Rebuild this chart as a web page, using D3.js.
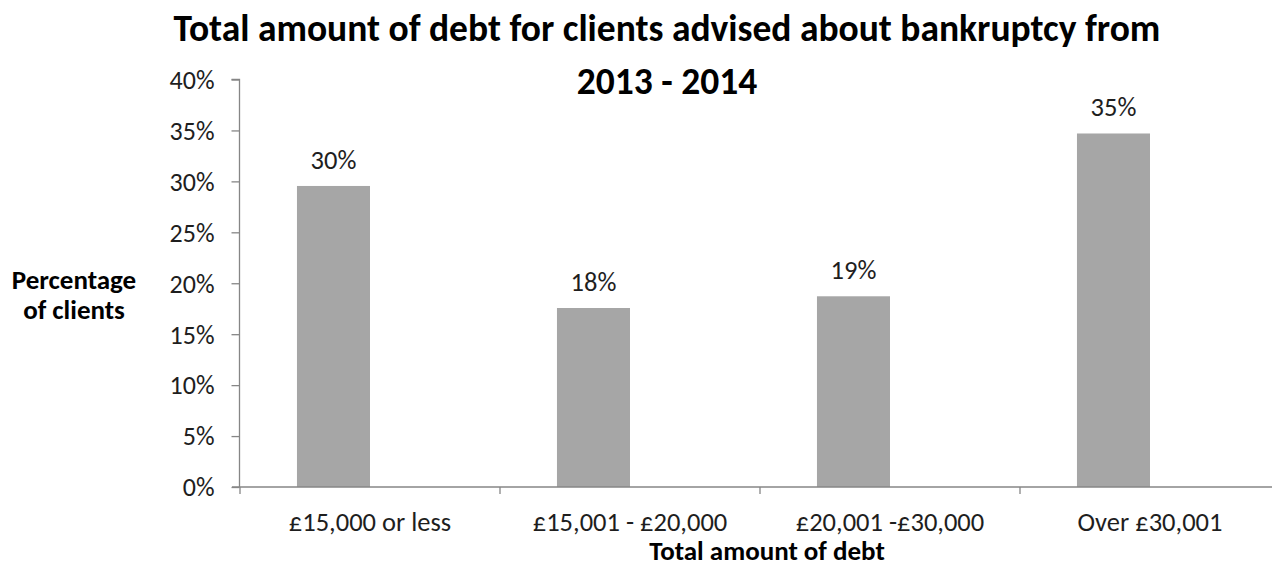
<!DOCTYPE html>
<html>
<head>
<meta charset="utf-8">
<script src="https://cdn.jsdelivr.net/npm/d3@7"></script>
<style>
  html, body { margin: 0; padding: 0; background: #fff; }
  svg { display: block; }
  text { font-family: Carlito, Calibri, Lato, sans-serif; }
</style>
</head>
<body>
<svg id="chart" width="1272" height="567"></svg>
<script>
// Debt bands and share of clients in each band
const categories = ["£15,000 or less", "£15,001 - £20,000", "£20,001 -£30,000", "Over £30,001"];
const shares = [0.2955, 0.1757, 0.1872, 0.3470];
const yTicks = [0, 0.05, 0.10, 0.15, 0.20, 0.25, 0.30, 0.35, 0.40];
const titleLines = ["Total amount of debt for clients advised about bankruptcy from", "2013 - 2014"];
const yTitleLines = ["Percentage", "of clients"];
const xTitle = "Total amount of debt";

const svg = d3.select("#chart");
const axisColor = "#868686";
const barColor = "#A6A6A6";
const textColor = "#1e1e1e";
const fontFamily = "Carlito, Calibri, Lato, sans-serif";

// Plot area (the last band runs slightly past the right edge of the page)
const plot = { left: 240, right: 1280, top: 79.5, bottom: 487 };

const x = d3.scaleBand().domain(categories).range([plot.left, plot.right]).paddingInner(0).paddingOuter(0);
// each band holds two slots; the bar occupies the first one
const slot = d3.scaleBand().domain([0, 1]).range([0, x.bandwidth()]).paddingInner(0).paddingOuter(0.78);
const y = d3.scaleLinear().domain([0, 0.4]).range([plot.bottom, plot.top]);
const pct = d3.format(".0%");

const rows = categories.map((c, i) => ({ c, v: shares[i] }));

// Bars
svg.append("g").selectAll("rect")
  .data(rows)
  .join("rect")
  .attr("x", d => x(d.c) + slot(0))
  .attr("width", slot.bandwidth())
  .attr("y", d => y(d.v))
  .attr("height", d => y(0) - y(d.v))
  .attr("fill", barColor);

// Value labels above the bars
svg.append("g").selectAll("text")
  .data(rows)
  .join("text")
  .attr("x", d => x(d.c) + slot(0) + slot.bandwidth() / 2)
  .attr("y", d => y(d.v) - 17)
  .attr("text-anchor", "middle")
  .attr("font-size", 26.5)
  .attr("fill", textColor)
  .text(d => pct(d.v));

// Y axis
const yAxis = svg.append("g")
  .attr("transform", `translate(${plot.left - 0.5},0)`)
  .call(d3.axisLeft(y).tickValues(yTicks).tickFormat(pct).tickSize(8).tickPadding(17));
yAxis.select(".domain").attr("stroke", axisColor).attr("stroke-width", 1.3)
  .attr("d", `M-8,${y(0.4)}H0V${y(0)}`);
yAxis.selectAll(".tick line").attr("stroke", axisColor).attr("stroke-width", 1.3);
yAxis.selectAll(".tick text").attr("font-size", 26).attr("fill", textColor)
  .attr("font-family", fontFamily).attr("dy", "0.34em");

// X axis baseline and band separators
const xg = svg.append("g").attr("transform", `translate(0,${y(0)})`);
xg.append("line")
  .attr("x1", plot.left - 8).attr("x2", plot.right)
  .attr("stroke", axisColor).attr("stroke-width", 1.3);
xg.selectAll("line.sep")
  .data(categories.map(c => x(c)).concat([x.range()[1]]))
  .join("line").attr("class", "sep")
  .attr("x1", d => d).attr("x2", d => d)
  .attr("y1", 0).attr("y2", 7)
  .attr("stroke", axisColor).attr("stroke-width", 1.3);
xg.selectAll("text")
  .data(categories)
  .join("text")
  .attr("x", d => x(d) + x.bandwidth() / 2)
  .attr("y", 43.5)
  .attr("text-anchor", "middle")
  .attr("font-size", 26.5)
  .attr("fill", textColor)
  .text(d => d);

// Titles
svg.append("g").selectAll("text")
  .data(titleLines)
  .join("text")
  .attr("x", 667)
  .attr("y", (d, i) => 41 + i * 53)
  .attr("text-anchor", "middle")
  .attr("font-size", 37.5)
  .attr("font-weight", "bold")
  .attr("fill", "#000")
  .text(d => d);

svg.append("g").selectAll("text")
  .data(yTitleLines)
  .join("text")
  .attr("x", 74)
  .attr("y", (d, i) => 289 + i * 30)
  .attr("text-anchor", "middle")
  .attr("font-size", 27)
  .attr("font-weight", "bold")
  .attr("fill", "#000")
  .text(d => d);

svg.append("text")
  .attr("x", 767)
  .attr("y", 560)
  .attr("text-anchor", "middle")
  .attr("font-size", 27)
  .attr("font-weight", "bold")
  .attr("fill", "#000")
  .text(xTitle);
</script>
</body>
</html>
